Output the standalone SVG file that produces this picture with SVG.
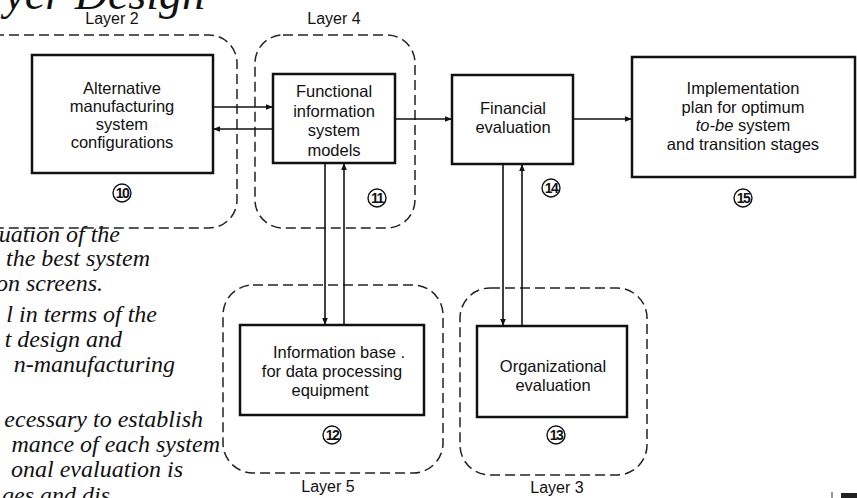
<svg xmlns="http://www.w3.org/2000/svg" width="857" height="498" viewBox="0 0 857 498">
  <style>
    .bg { fill: #ffffff; }
    .box { fill: none; stroke: #111; stroke-width: 2.5; }
    .layer { fill: none; stroke: #222; stroke-width: 1.5; stroke-dasharray: 10 5; }
    .lbl { font-family: "Liberation Sans", Arial, sans-serif; font-size: 16.5px; fill: #111; text-anchor: middle; }
    .lay { font-family: "Liberation Sans", Arial, sans-serif; font-size: 16px; fill: #111; text-anchor: middle; }
    .num { font-family: "Liberation Sans", Arial, sans-serif; font-size: 14px; font-weight: bold; fill: #111; text-anchor: middle; letter-spacing: -1.5px; }
    .ring { fill: none; stroke: #111; stroke-width: 1.4; }
    .body { font-family: "Liberation Serif", "Times New Roman", serif; font-style: italic; font-size: 24px; fill: #111; text-anchor: end; }
    .title { font-family: "Liberation Serif", "Times New Roman", serif; font-style: italic; font-size: 46px; fill: #111; text-anchor: end; }
    .wire { fill: none; stroke: #111; stroke-width: 1.6; }
  </style>
  <defs>
    <marker id="arrow" viewBox="0 0 10 10" refX="10" refY="5" markerWidth="7" markerHeight="7" orient="auto" markerUnits="userSpaceOnUse">
      <path d="M0,1 L10,5 L0,9 z" fill="#111"/>
    </marker>
  </defs>

  <rect class="bg" x="0" y="0" width="857" height="498"/>

  <!-- page text around the figure -->
  <g id="page-text">
    <text class="title" x="205" y="9">yer Design</text>
    <text class="body" x="120" y="242">uation of the</text>
    <text class="body" x="150" y="266">the best system</text>
    <text class="body" x="103" y="291">on screens.</text>
    <text class="body" x="157" y="322">l in terms of the</text>
    <text class="body" x="122" y="347">t design and</text>
    <text class="body" x="175" y="372">n-manufacturing</text>
    <text class="body" x="203" y="427">ecessary to establish</text>
    <text class="body" x="220" y="452">mance of each system</text>
    <text class="body" x="183" y="477">onal evaluation is</text>
    <text class="body" x="110" y="503">ges and dis</text>
  </g>

  <!-- layer outlines -->
  <g id="layers">
    <rect class="layer" x="-30" y="35" width="267" height="193" rx="28" stroke-dashoffset="4"/>
    <rect class="layer" x="255" y="35" width="160" height="193" rx="28"/>
    <rect class="layer" x="223" y="285" width="220" height="188" rx="30"/>
    <rect class="layer" x="460" y="288" width="187" height="187" rx="30"/>
    <text class="lay" x="112" y="24">Layer 2</text>
    <text class="lay" x="334" y="24">Layer 4</text>
    <text class="lay" x="328" y="492">Layer 5</text>
    <text class="lay" x="557" y="493">Layer 3</text>
  </g>

  <!-- connectors -->
  <g id="connectors">
    <line class="wire" x1="213" y1="107" x2="273" y2="107" marker-end="url(#arrow)"/>
    <line class="wire" x1="273" y1="129" x2="213" y2="129" marker-end="url(#arrow)"/>
    <line class="wire" x1="395" y1="119" x2="452" y2="119" marker-end="url(#arrow)"/>
    <line class="wire" x1="573" y1="119" x2="632" y2="119" marker-end="url(#arrow)"/>
    <line class="wire" x1="325" y1="163" x2="325" y2="325" marker-end="url(#arrow)"/>
    <line class="wire" x1="344" y1="325" x2="344" y2="163" marker-end="url(#arrow)"/>
    <line class="wire" x1="503" y1="164" x2="503" y2="326" marker-end="url(#arrow)"/>
    <line class="wire" x1="522" y1="326" x2="522" y2="164" marker-end="url(#arrow)"/>
  </g>

  <g id="node-10">
    <rect class="box" x="32" y="55" width="181" height="118"/>
    <text class="lbl" x="122" y="94">Alternative</text>
    <text class="lbl" x="122" y="112">manufacturing</text>
    <text class="lbl" x="122" y="130">system</text>
    <text class="lbl" x="122" y="148">configurations</text>
    <circle class="ring" cx="122" cy="193" r="9"/>
    <text class="num" x="122" y="198">10</text>
  </g>

  <g id="node-11">
    <rect class="box" x="273" y="74" width="122" height="89"/>
    <text class="lbl" x="334" y="97">Functional</text>
    <text class="lbl" x="334" y="116.5">information</text>
    <text class="lbl" x="334" y="136">system</text>
    <text class="lbl" x="334" y="155.5">models</text>
    <circle class="ring" cx="377" cy="198" r="9"/>
    <text class="num" x="377" y="203">11</text>
  </g>

  <g id="node-14">
    <rect class="box" x="452" y="75" width="121" height="89"/>
    <text class="lbl" x="513" y="114">Financial</text>
    <text class="lbl" x="513" y="133">evaluation</text>
    <circle class="ring" cx="551" cy="188" r="9"/>
    <text class="num" x="551" y="193">14</text>
  </g>

  <g id="node-15">
    <rect class="box" x="632" y="57" width="223" height="120"/>
    <text class="lbl" x="743" y="94">Implementation</text>
    <text class="lbl" x="743" y="112.5">plan for optimum</text>
    <text class="lbl" x="743" y="131"><tspan font-style="italic">to-be</tspan> system</text>
    <text class="lbl" x="743" y="149.5">and transition stages</text>
    <circle class="ring" cx="743" cy="198" r="9"/>
    <text class="num" x="743" y="203">15</text>
  </g>

  <g id="node-12">
    <rect class="box" x="240" y="325" width="184" height="90"/>
    <text class="lbl" x="339" y="358">Information base .</text>
    <text class="lbl" x="332" y="377">for data processing</text>
    <text class="lbl" x="330" y="396">equipment</text>
    <circle class="ring" cx="332" cy="435" r="9"/>
    <text class="num" x="332" y="440">12</text>
  </g>

  <g id="node-13">
    <rect class="box" x="477" y="326" width="150" height="91"/>
    <text class="lbl" x="553" y="372">Organizational</text>
    <text class="lbl" x="553" y="391">evaluation</text>
    <circle class="ring" cx="556" cy="435" r="9"/>
    <text class="num" x="556" y="440">13</text>
  </g>

  <!-- edge mark in the lower right corner -->
  <g id="corner-mark">
    <line x1="832" y1="492" x2="832" y2="498" stroke="#333" stroke-width="1"/>
    <rect x="841" y="493" width="16" height="5" fill="#222"/>
  </g>
</svg>
